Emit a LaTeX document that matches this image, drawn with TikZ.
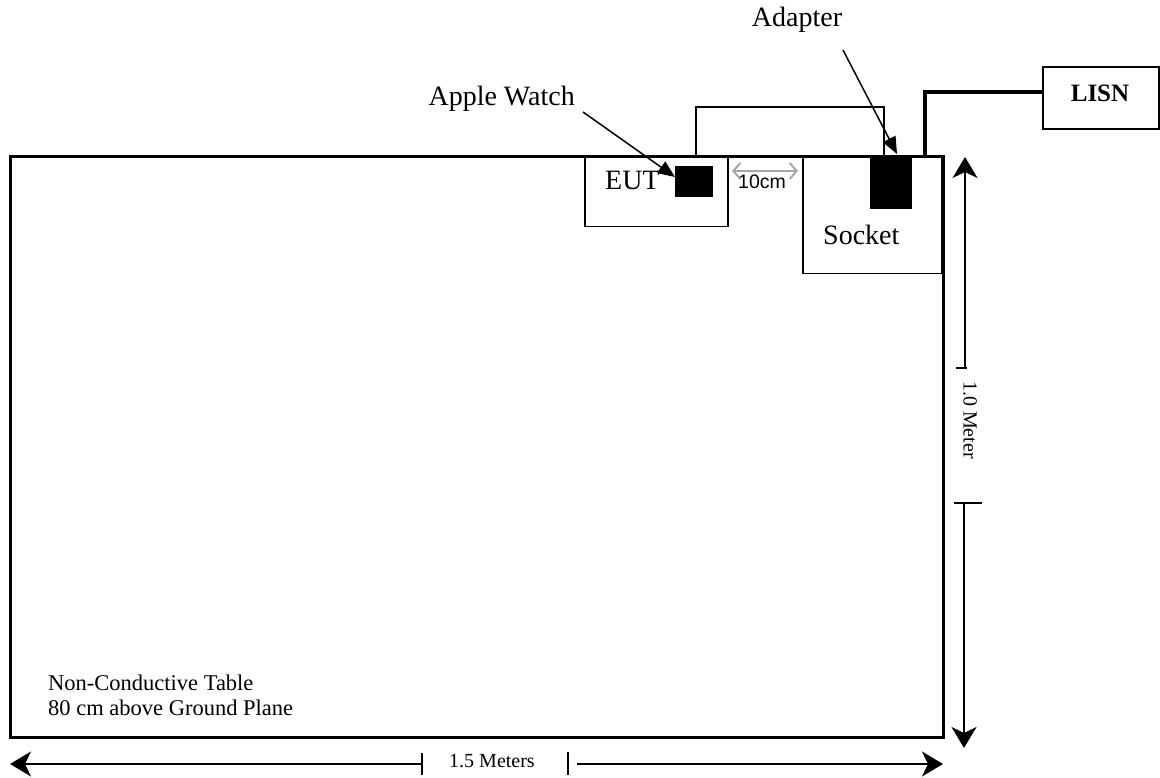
\documentclass[tikz,border=0pt]{standalone}
\usepackage{fontspec}
\setmainfont{Liberation Serif}
\newfontfamily\arialfont{Liberation Sans}
\usetikzlibrary{arrows.meta}
\begin{document}
\begin{tikzpicture}[x=1pt,y=-1pt,
  box/.style={draw, line width=1.5pt, inner sep=0pt, anchor=north west},
  blk/.style={fill=black, draw=none, inner sep=0pt, anchor=north west},
  big/.style={font=\fontsize{28}{32}\selectfont, inner sep=0pt},
  mid/.style={font=\fontsize{22.5}{26}\selectfont, inner sep=0pt},
  dimtxt/.style={font=\fontsize{20}{24}\selectfont, inner sep=0pt},
  dimline/.style={line width=1.5pt},
  dimtip/.style={line width=1.5pt, -{Stealth[length=21pt,width=25pt,inset=6pt]}},
  ptr/.style={line width=1.5pt, -{Triangle[length=17pt,width=14pt]}},
  cable/.style={line width=1.5pt},
  cord/.style={line width=3.5pt},
  gapdim/.style={gray!70, line width=2pt, {Straight Barb[length=7pt,width=16pt]}-{Straight Barb[length=7pt,width=16pt]}}
]
\useasboundingbox (0,0) rectangle (1160,778);

% boxes
\node[box, minimum width=143pt, minimum height=71pt] (eut) at (584,155) {};
\node[box, minimum width=139pt, minimum height=118pt] (socket) at (802,155) {};
\node[box, line width=3pt, minimum width=933pt, minimum height=581pt] (table) at (9,155) {};
\node[box, line width=2pt, minimum width=116pt, minimum height=62pt] (lisn) at (1042,66) {};
\node[blk, minimum width=38pt, minimum height=31pt] (watch) at (675,166) {};
\node[blk, minimum width=42pt, minimum height=52pt] (adapter) at (870,157) {};

% texts
\node[big, anchor=base west] (eutlbl) at (605,190) {EUT};
\node[big, anchor=base west] (socklbl) at (823,245) {Socket};
\node[big, anchor=base east] (watchlbl) at (575,106) {Apple Watch};
\node[big, anchor=base] (adaptlbl) at (797,27) {Adapter};
\node[font=\fontsize{25}{30}\selectfont\bfseries, inner sep=0pt, anchor=base] (lisnlbl) at (1100,102) {LISN};
\node[mid, anchor=base west] (tbl1) at (48,690) {Non-Conductive Table};
\node[mid, anchor=base west] (tbl2) at (48,715) {80 cm above Ground Plane};
\node[font=\arialfont\fontsize{19.5}{22}\selectfont, inner sep=0pt] (gaplbl) at (762,182) {10cm};
\node[dimtxt, anchor=base] (wlbl) at (492,767) {1.5 Meters};
\node[dimtxt, rotate=-90] (hlbl) at (970,420) {1.0 Meter};

% cable between EUT and adapter
\coordinate (c1) at (696,155);
\coordinate (c2) at (884,155);
\draw[cable] (c1) -- (696,107) -- (884,107) -- (c2);

% power cord to LISN
\coordinate (p1) at (925,155);
\coordinate (p2) at (1042,92);
\draw[cord] (p1) |- (p2);

% pointers
\coordinate (wa) at (583,112);
\coordinate (wt) at (675,177);
\draw[ptr] (wa) -- (wt);
\coordinate (aa) at (843,50);
\coordinate (at1) at (897,154);
\draw[ptr] (aa) -- (at1);

% 10cm gap
\coordinate (g1) at (732,171);
\coordinate (g2) at (798,171);
\draw[gapdim] (g1) -- (g2);

% horizontal dimension
\coordinate (hl) at (10,764);
\coordinate (ht1) at (422,764);
\coordinate (ht2) at (577,764);
\coordinate (hr) at (943,764);
\draw[dimtip] (ht1) -- (hl);
\draw[dimline] (422,753) -- (422,775);
\draw[dimline] (568,752) -- (568,775);
\draw[dimtip, line width=2pt] (ht2) -- (hr);

% vertical dimension
\coordinate (vt) at (965,157);
\coordinate (vt1) at (965,368);
\coordinate (vb1) at (964,503);
\coordinate (vb) at (964,748);
\draw[dimtip] (vt1) -- (vt);
\draw[dimline] (956,368) -- (967,368);
\draw[dimline] (954,503) -- (982,503);
\draw[dimtip] (vb1) -- (vb);
\end{tikzpicture}
\end{document}
